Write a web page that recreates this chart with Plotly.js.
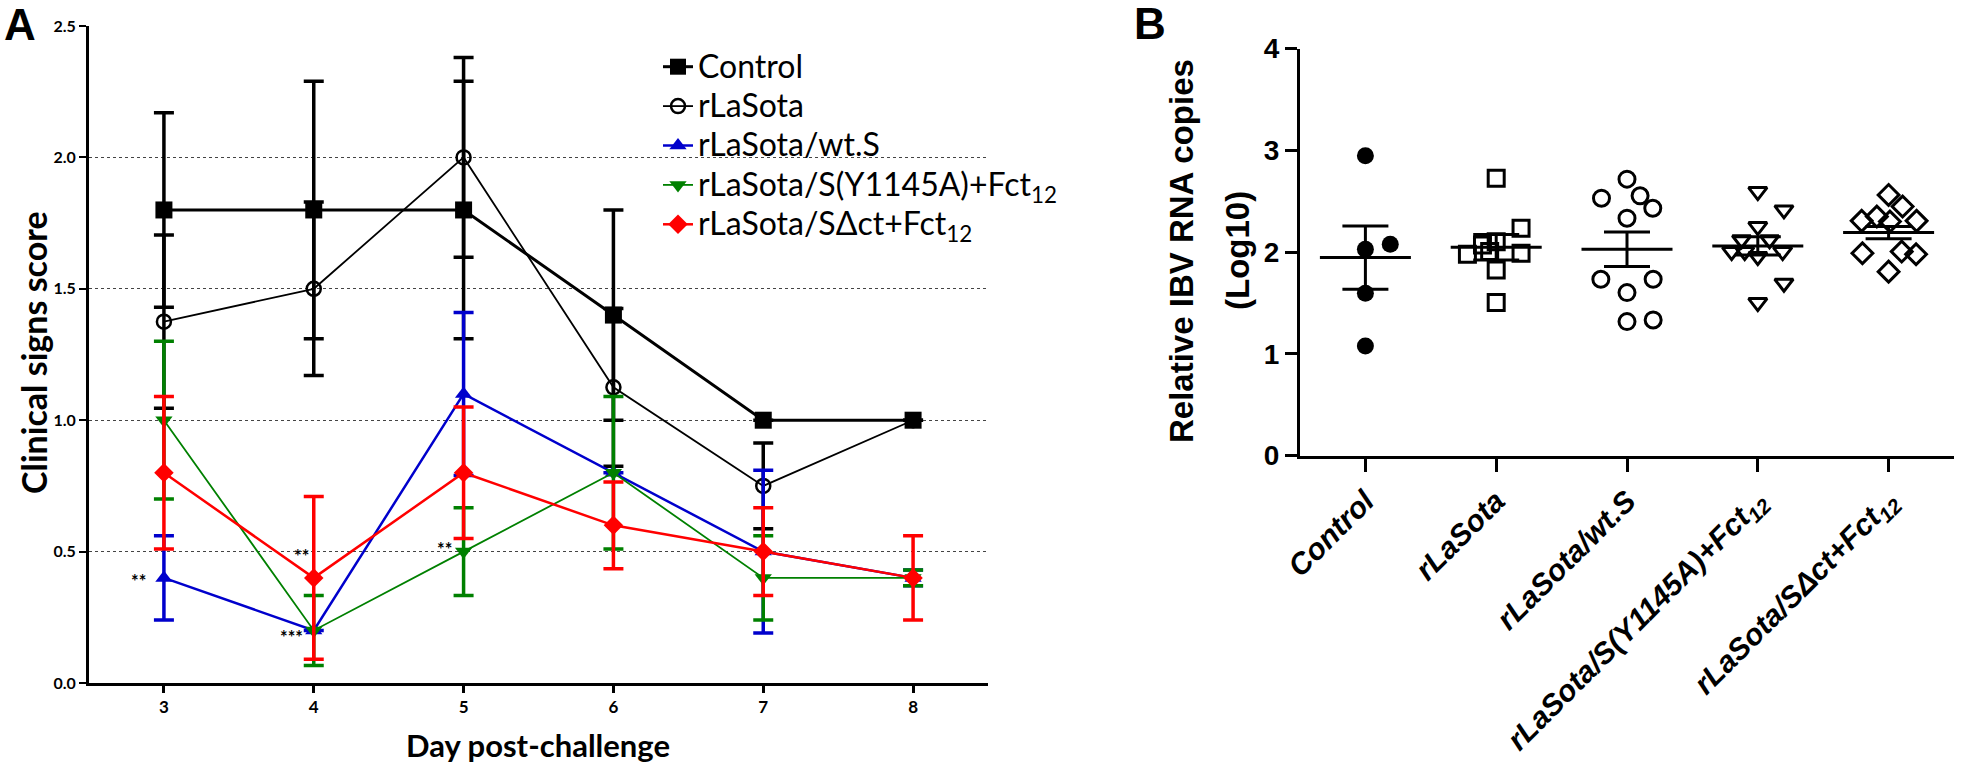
<!DOCTYPE html>
<html><head><meta charset="utf-8">
<script src="https://cdn.plot.ly/plotly-3.0.1.min.js"></script>
<style>html,body{margin:0;padding:0;background:#fff}#chart{width:1961px;height:769px}</style>
</head><body><div id="chart"></div>
<script>
// ---------- Panel A data ----------
const days = [3, 4, 5, 6, 7, 8];
const dayTicks = ['3', '4', '5', '6', '7', '8'];
const controlMean = [1.8, 1.8, 1.8, 1.4, 1.0, 1.0];
const controlSem  = [0.37, 0.49, 0.49, 0.40, 0, 0];
const lasotaMean  = [1.375, 1.5, 2.0, 1.125, 0.75, 1.0];
const lasotaSem   = [0.33, 0.33, 0.38, 0.30, 0.163, 0];
const wtsMean     = [0.4, 0.2, 1.1, 0.8, 0.5, 0.4];
const wtsSem      = [0.16, 0, 0.31, 0, 0.31, 0.03];
const y1145Mean   = [1.0, 0.2, 0.5, 0.8, 0.4, 0.4];
const y1145Sem    = [0.3, 0.133, 0.167, 0.29, 0.16, 0.03];
const dctMean     = [0.8, 0.4, 0.8, 0.6, 0.5, 0.4];
const dctSem      = [0.29, 0.31, 0.25, 0.165, 0.167, 0.16];
const seriesNames = ['Control', 'rLaSota', 'rLaSota/wt.S',
  'rLaSota/S(Y1145A)+Fct<sub>12</sub>', 'rLaSota/S\u0394ct+Fct<sub>12</sub>'];
const yTicksA = [0, 0.5, 1.0, 1.5, 2.0, 2.5];
// significance marks: [day position, score, text]
const sigX = [2.83, 3.92, 3.85, 4.87];
const sigY = [0.39, 0.485, 0.175, 0.51];
const sigText = ['**', '**', '***', '**'];

// ---------- Panel B data ----------
const groups = ['Control', 'rLaSota', 'rLaSota/wt.S',
  'rLaSota/S(Y1145A)+Fct<sub>12</sub>', 'rLaSota/S\u0394ct+Fct<sub>12</sub>'];
const ctrlRNA   = [2.945, 2.027, 2.077, 1.595, 1.077];
const ctrlJit   = [0, 0, 0.19, 0, 0];
const lasotaRNA = [2.725, 2.234, 1.978, 1.988, 1.824, 1.503, 2.07, 2.10, 2.004];
const lasotaJit = [0, 0.19, -0.22, 0.19, 0, 0, -0.105, 0, -0.05];
const wtsRNA    = [2.716, 2.529, 2.552, 2.43, 2.332, 1.732, 1.732, 1.601, 1.316, 1.332];
const wtsJit    = [0, -0.195, 0.10, 0.197, 0, -0.2, 0.2, 0, 0, 0.2];
const y1145RNA  = [2.594, 2.414, 2.25, 1.693, 1.503, 2.12, 2.12, 2.004, 2.004, 1.955, 2.004];
const y1145Jit  = [0, 0.2, 0, 0.2, 0, -0.124, 0.09, -0.2, -0.1, 0, 0.19];
const dctRNA    = [2.561, 2.447, 2.306, 2.306, 2.348, 2.3, 1.988, 2.004, 1.978, 1.807];
const dctJit    = [0, 0.107, 0.214, -0.206, -0.09, 0.01, -0.2, 0.1, 0.21, 0];
const groupMean = [1.945, 2.047, 2.027, 2.06, 2.191];
const groupSem  = [0.31, 0.125, 0.17, 0.09, 0.06];
const yTicksB = [0, 1, 2, 3, 4];

// ---------- build ----------
const FA = 'Lato, "Open Sans", sans-serif';
const FB = '"Liberation Sans", Arial, sans-serif';
const blue = '#0000CC', green = '#008000', red = '#FF0000';

function lineTrace(name, mean, sem, color, lw, symbol, msize, mlw, fill) {
  return {
    type: 'scatter', mode: 'lines+markers', x: days, y: mean,
    name: '<span style="font-size:32px">' + name + '</span>',
    xaxis: 'x', yaxis: 'y',
    line: {color: color, width: lw},
    marker: {symbol: symbol, size: msize, color: fill, line: {color: color, width: mlw}},
    error_y: {type: 'data', array: sem, visible: true, color: color, thickness: 3.5, width: 10}
  };
}

const traces = [
  lineTrace(seriesNames[0], controlMean, controlSem, '#000', 3, 'square', 17, 0, '#000'),
  lineTrace(seriesNames[1], lasotaMean, lasotaSem, '#000', 1.8, 'circle-open', 14, 2.5, '#000'),
  lineTrace(seriesNames[2], wtsMean, wtsSem, blue, 2.5, 'triangle-up', 15, 0, blue),
  lineTrace(seriesNames[3], y1145Mean, y1145Sem, green, 1.8, 'triangle-down', 15, 0, green),
  lineTrace(seriesNames[4], dctMean, dctSem, red, 2.5, 'diamond', 15, 0, red)
];

function offsetX(i, jit) { return jit.map(j => i + j); }
const bSets = [
  [ctrlRNA, ctrlJit, 'circle', '#000', 17, 0],
  [lasotaRNA, lasotaJit, 'square-open', '#000', 16, 3],
  [wtsRNA, wtsJit, 'circle-open', '#000', 16, 3],
  [y1145RNA, y1145Jit, 'triangle-down-open', '#000', 16, 3],
  [dctRNA, dctJit, 'diamond-open', '#000', 16, 3]
];
bSets.forEach((s, i) => {
  traces.push({
    type: 'scatter', mode: 'markers', x: offsetX(i, s[1]), y: s[0],
    xaxis: 'x2', yaxis: 'y2', showlegend: false,
    marker: {symbol: s[2], size: s[4], color: s[3], line: {color: '#000', width: s[5]}}
  });
});
traces.push({
  type: 'scatter', mode: 'markers', x: [0, 1, 2, 3, 4], y: groupMean,
  xaxis: 'x2', yaxis: 'y2', showlegend: false,
  marker: {symbol: 'line-ew', size: 65, color: '#000', line: {color: '#000', width: 3}},
  error_y: {type: 'data', array: groupSem, visible: true, color: '#000', thickness: 3, width: 23}
});

const W = 1961, H = 769;
const px = v => v / W, py = v => 1 - v / H;

function note(text, x, y, font, angle) {
  return {text: text, x: px(x), y: py(y), xref: 'paper', yref: 'paper', showarrow: false,
    xanchor: 'center', yanchor: 'middle', textangle: angle || 0, font: font};
}
const annotations = [
  note('<b>A</b>', 20, 24, {family: FB, size: 44, color: '#000'}),
  note('<b>B</b>', 1150, 23, {family: FB, size: 44, color: '#000'}),
  note('Day post-challenge', 538, 745, {family: FA, size: 31, color: '#000', weight: 700}),
  note('Clinical signs score', 33, 353, {family: FA, size: 34, color: '#000', weight: 700}, -90),
  note('Relative IBV RNA copies', 1181, 251, {family: FB, size: 33, color: '#000', weight: 700}, -90),
  note('(Log10)', 1237, 251, {family: FB, size: 33, color: '#000', weight: 700}, -90)
];
sigText.forEach((t, i) => annotations.push({
  text: t, x: sigX[i], y: sigY[i], xref: 'x', yref: 'y', showarrow: false,
  xanchor: 'center', yanchor: 'middle',
  font: {family: FA, size: 18, color: '#000', weight: 700}
}));

const layout = {
  width: W, height: H,
  margin: {l: 0, r: 0, t: 0, b: 0},
  paper_bgcolor: '#fff', plot_bgcolor: 'rgba(0,0,0,0)',
  showlegend: true,
  legend: {x: px(658), y: py(42), xanchor: 'left', yanchor: 'top',
    font: {family: FA, size: 28, color: '#000'}, bgcolor: 'rgba(0,0,0,0)', borderwidth: 0,
    itemwidth: 30},
  xaxis: {domain: [px(89), px(988)], range: [2.5, 8.5], anchor: 'y',
    tickvals: days, ticktext: dayTicks, showgrid: false, zeroline: false,
    showline: true, linecolor: '#000', linewidth: 3,
    ticks: 'outside', ticklen: 7, tickwidth: 2.5, tickcolor: '#000',
    tickfont: {family: FA, size: 17, color: '#000', weight: 700}},
  yaxis: {domain: [1 - 683 / H, 1 - 26 / H], range: [0, 2.5], anchor: 'x',
    tickvals: yTicksA, ticktext: yTicksA.map(v => v.toFixed(1)),
    showgrid: true, gridcolor: '#444', gridwidth: 1, griddash: 'dot', zeroline: false,
    showline: true, linecolor: '#000', linewidth: 3,
    ticks: 'outside', ticklen: 7, tickwidth: 2, tickcolor: '#000',
    tickfont: {family: FA, size: 16, color: '#000', weight: 700}},
  xaxis2: {domain: [px(1300), px(1954)], range: [-0.5, 4.5], anchor: 'y2',
    tickvals: [0, 1, 2, 3, 4], ticktext: groups, tickangle: -45,
    showgrid: false, zeroline: false, showline: true, linecolor: '#000', linewidth: 3,
    ticks: 'outside', ticklen: 13, tickwidth: 3, tickcolor: '#000',
    tickfont: {family: FB, size: 30, color: '#000', weight: 700, style: 'italic'}},
  yaxis2: {domain: [1 - 455.5 / H, 1 - 48.5 / H], range: [0, 4], anchor: 'x2',
    tickvals: yTicksB, showgrid: false, zeroline: false,
    showline: true, linecolor: '#000', linewidth: 3,
    ticks: 'outside', ticklen: 12, tickwidth: 3, tickcolor: '#000',
    tickfont: {family: FB, size: 28, color: '#000', weight: 700}},
  annotations: annotations
};

Plotly.newPlot('chart', traces, layout, {displayModeBar: false, responsive: false});
</script>
</body></html>
